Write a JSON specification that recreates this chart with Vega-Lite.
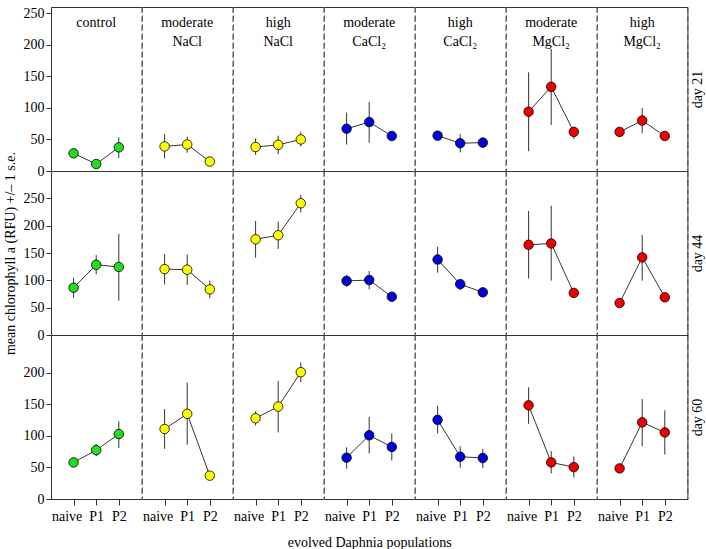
{
  "$schema": "https://vega.github.io/schema/vega-lite/v6.json",
  "background": "white",
  "padding": {"left": 2, "top": 5, "right": 0, "bottom": 5},
  "bounds": "flush",
  "spacing": 0,
  "columns": 7,
  "config": {
    "font": "Liberation Serif",
    "view": {"stroke": "#666", "strokeDash": [6, 3], "strokeWidth": 1},
    "axis": {"labelFont": "Liberation Serif", "titleFont": "Liberation Serif", "labelFontSize": 14, "titleFontSize": 14, "titleFontWeight": "normal", "labelColor": "#000", "titleColor": "#000", "domainColor": "#333", "tickColor": "#333", "grid": false},
    "concat": {"spacing": 0}
  },
  "data": {"values": [
    {"day": 21, "treatment": "control", "pop": "naive", "mean": 28, "lo": 25, "hi": 31},
    {"day": 21, "treatment": "control", "pop": "P1", "mean": 11, "lo": 8, "hi": 14},
    {"day": 21, "treatment": "control", "pop": "P2", "mean": 37.5, "lo": 20.5, "hi": 53.5},
    {"day": 21, "treatment": "moderate NaCl", "pop": "naive", "mean": 39, "lo": 20, "hi": 58.5},
    {"day": 21, "treatment": "moderate NaCl", "pop": "P1", "mean": 42, "lo": 29, "hi": 54.5},
    {"day": 21, "treatment": "moderate NaCl", "pop": "P2", "mean": 15, "lo": 12, "hi": 18},
    {"day": 21, "treatment": "high NaCl", "pop": "naive", "mean": 38, "lo": 25.5, "hi": 51.5},
    {"day": 21, "treatment": "high NaCl", "pop": "P1", "mean": 41.5, "lo": 26.5, "hi": 56},
    {"day": 21, "treatment": "high NaCl", "pop": "P2", "mean": 50, "lo": 39, "hi": 62},
    {"day": 21, "treatment": "moderate CaCl₂", "pop": "naive", "mean": 67, "lo": 42, "hi": 92.5},
    {"day": 21, "treatment": "moderate CaCl₂", "pop": "P1", "mean": 77.5, "lo": 45, "hi": 109.5},
    {"day": 21, "treatment": "moderate CaCl₂", "pop": "P2", "mean": 55.5, "lo": 52, "hi": 59},
    {"day": 21, "treatment": "high CaCl₂", "pop": "naive", "mean": 56, "lo": 53, "hi": 59},
    {"day": 21, "treatment": "high CaCl₂", "pop": "P1", "mean": 44, "lo": 29.5, "hi": 58.5},
    {"day": 21, "treatment": "high CaCl₂", "pop": "P2", "mean": 45, "lo": 36.5, "hi": 53.5},
    {"day": 21, "treatment": "moderate MgCl₂", "pop": "naive", "mean": 94, "lo": 31.5, "hi": 156.5},
    {"day": 21, "treatment": "moderate MgCl₂", "pop": "P1", "mean": 133.5, "lo": 73, "hi": 193.5},
    {"day": 21, "treatment": "moderate MgCl₂", "pop": "P2", "mean": 62, "lo": 51, "hi": 70},
    {"day": 21, "treatment": "high MgCl₂", "pop": "naive", "mean": 62, "lo": 57, "hi": 67},
    {"day": 21, "treatment": "high MgCl₂", "pop": "P1", "mean": 80, "lo": 60, "hi": 99.5},
    {"day": 21, "treatment": "high MgCl₂", "pop": "P2", "mean": 55.5, "lo": 52.5, "hi": 58.5},
    {"day": 44, "treatment": "control", "pop": "naive", "mean": 86.5, "lo": 68, "hi": 105},
    {"day": 44, "treatment": "control", "pop": "P1", "mean": 128.5, "lo": 111, "hi": 146},
    {"day": 44, "treatment": "control", "pop": "P2", "mean": 124.5, "lo": 63, "hi": 185},
    {"day": 44, "treatment": "moderate NaCl", "pop": "naive", "mean": 120.5, "lo": 92.5, "hi": 148},
    {"day": 44, "treatment": "moderate NaCl", "pop": "P1", "mean": 119.5, "lo": 91.5, "hi": 147.5},
    {"day": 44, "treatment": "moderate NaCl", "pop": "P2", "mean": 83.5, "lo": 67, "hi": 99.5},
    {"day": 44, "treatment": "high NaCl", "pop": "naive", "mean": 175, "lo": 141.5, "hi": 208.5},
    {"day": 44, "treatment": "high NaCl", "pop": "P1", "mean": 182.5, "lo": 157.5, "hi": 207.5},
    {"day": 44, "treatment": "high NaCl", "pop": "P2", "mean": 241, "lo": 224, "hi": 256},
    {"day": 44, "treatment": "moderate CaCl₂", "pop": "naive", "mean": 99, "lo": 88, "hi": 110},
    {"day": 44, "treatment": "moderate CaCl₂", "pop": "P1", "mean": 100.5, "lo": 83.5, "hi": 117},
    {"day": 44, "treatment": "moderate CaCl₂", "pop": "P2", "mean": 70, "lo": 66, "hi": 74},
    {"day": 44, "treatment": "high CaCl₂", "pop": "naive", "mean": 138, "lo": 114, "hi": 161.5},
    {"day": 44, "treatment": "high CaCl₂", "pop": "P1", "mean": 93, "lo": 82.5, "hi": 100.5},
    {"day": 44, "treatment": "high CaCl₂", "pop": "P2", "mean": 78, "lo": 75, "hi": 81},
    {"day": 44, "treatment": "moderate MgCl₂", "pop": "naive", "mean": 165, "lo": 103.5, "hi": 227},
    {"day": 44, "treatment": "moderate MgCl₂", "pop": "P1", "mean": 167.5, "lo": 99.5, "hi": 236.5},
    {"day": 44, "treatment": "moderate MgCl₂", "pop": "P2", "mean": 77, "lo": 74, "hi": 80},
    {"day": 44, "treatment": "high MgCl₂", "pop": "naive", "mean": 58.5, "lo": 55.5, "hi": 61.5},
    {"day": 44, "treatment": "high MgCl₂", "pop": "P1", "mean": 142, "lo": 99.5, "hi": 183},
    {"day": 44, "treatment": "high MgCl₂", "pop": "P2", "mean": 69, "lo": 66, "hi": 72},
    {"day": 60, "treatment": "control", "pop": "naive", "mean": 58, "lo": 55, "hi": 61},
    {"day": 60, "treatment": "control", "pop": "P1", "mean": 77.5, "lo": 68, "hi": 87},
    {"day": 60, "treatment": "control", "pop": "P2", "mean": 103, "lo": 81, "hi": 123},
    {"day": 60, "treatment": "moderate NaCl", "pop": "naive", "mean": 111, "lo": 79.5, "hi": 142.5},
    {"day": 60, "treatment": "moderate NaCl", "pop": "P1", "mean": 135, "lo": 86, "hi": 184.5},
    {"day": 60, "treatment": "moderate NaCl", "pop": "P2", "mean": 37, "lo": 34, "hi": 40},
    {"day": 60, "treatment": "high NaCl", "pop": "naive", "mean": 128, "lo": 116.5, "hi": 139},
    {"day": 60, "treatment": "high NaCl", "pop": "P1", "mean": 146.5, "lo": 105.5, "hi": 187},
    {"day": 60, "treatment": "high NaCl", "pop": "P2", "mean": 201, "lo": 185, "hi": 216.5},
    {"day": 60, "treatment": "moderate CaCl₂", "pop": "naive", "mean": 65.5, "lo": 48, "hi": 82},
    {"day": 60, "treatment": "moderate CaCl₂", "pop": "P1", "mean": 101, "lo": 72, "hi": 130},
    {"day": 60, "treatment": "moderate CaCl₂", "pop": "P2", "mean": 82.5, "lo": 61, "hi": 104},
    {"day": 60, "treatment": "high CaCl₂", "pop": "naive", "mean": 125.5, "lo": 104, "hi": 148},
    {"day": 60, "treatment": "high CaCl₂", "pop": "P1", "mean": 67, "lo": 49.5, "hi": 83.5},
    {"day": 60, "treatment": "high CaCl₂", "pop": "P2", "mean": 65, "lo": 49, "hi": 79.5},
    {"day": 60, "treatment": "moderate MgCl₂", "pop": "naive", "mean": 148.5, "lo": 119, "hi": 177},
    {"day": 60, "treatment": "moderate MgCl₂", "pop": "P1", "mean": 58, "lo": 40.5, "hi": 76},
    {"day": 60, "treatment": "moderate MgCl₂", "pop": "P2", "mean": 50.5, "lo": 34, "hi": 67.5},
    {"day": 60, "treatment": "high MgCl₂", "pop": "naive", "mean": 48.5, "lo": 46.5, "hi": 50.5},
    {"day": 60, "treatment": "high MgCl₂", "pop": "P1", "mean": 121.5, "lo": 83.5, "hi": 158.5},
    {"day": 60, "treatment": "high MgCl₂", "pop": "P2", "mean": 105.5, "lo": 70.5, "hi": 140.5}
  ]},
  "concat": [
    {"width": 90.4, "height": 164, "transform": [{"filter": "datum.day == 21 && datum.treatment == 'control'"}], "resolve": {"axis": {"x": "independent", "y": "independent"}},
     "layer": [
      {"mark": {"type": "rule", "color": "#333"}, "encoding": {"x": {"field": "pop", "type": "ordinal", "scale": {"type": "point", "padding": 1, "domain": ["naive", "P1", "P2"]}, "axis": {"orient": "bottom", "labels": false, "ticks": false, "title": null}}, "y": {"field": "lo", "type": "quantitative", "scale": {"domain": [0, 250]}, "axis": null}, "y2": {"field": "hi"}}},
      {"mark": {"type": "line", "color": "#000", "strokeWidth": 0.8}, "encoding": {"x": {"field": "pop", "type": "ordinal", "axis": null}, "y": {"field": "mean", "type": "quantitative", "axis": null}}},
      {"mark": {"type": "point", "filled": true, "stroke": "#000", "strokeWidth": 0.8, "size": 90, "opacity": 1}, "encoding": {"x": {"field": "pop", "type": "ordinal", "axis": {"orient": "top", "labels": false, "ticks": false, "title": null}}, "y": {"field": "mean", "type": "quantitative", "axis": {"orient": "left", "values": [0, 50, 100, 150, 200, 250], "tickSize": 5, "title": null}}, "fill": {"field": "treatment", "type": "nominal", "scale": {"domain": ["control", "moderate NaCl", "high NaCl", "moderate CaCl₂", "high CaCl₂", "moderate MgCl₂", "high MgCl₂"], "range": ["#22dd22", "#ffff00", "#ffff00", "#0000dd", "#0000dd", "#ee0000", "#ee0000"]}, "legend": null}}},
      {"transform": [{"filter": "datum.pop == 'P1'"}], "mark": {"type": "text", "baseline": "top", "dy": 3, "fontSize": 14, "lineBreak": " ", "lineHeight": 19, "color": "#000"}, "encoding": {"x": {"field": "pop", "type": "ordinal", "axis": null}, "y": {"datum": 250, "type": "quantitative", "axis": null}, "text": {"field": "treatment"}}}
     ]},
    {"width": 90.4, "height": 164, "transform": [{"filter": "datum.day == 21 && datum.treatment == 'moderate NaCl'"}], "resolve": {"axis": {"x": "independent", "y": "independent"}},
     "layer": [
      {"mark": {"type": "rule", "color": "#333"}, "encoding": {"x": {"field": "pop", "type": "ordinal", "scale": {"type": "point", "padding": 1, "domain": ["naive", "P1", "P2"]}, "axis": {"orient": "bottom", "labels": false, "ticks": false, "title": null}}, "y": {"field": "lo", "type": "quantitative", "scale": {"domain": [0, 250]}, "axis": null}, "y2": {"field": "hi"}}},
      {"mark": {"type": "line", "color": "#000", "strokeWidth": 0.8}, "encoding": {"x": {"field": "pop", "type": "ordinal", "axis": null}, "y": {"field": "mean", "type": "quantitative", "axis": null}}},
      {"mark": {"type": "point", "filled": true, "stroke": "#000", "strokeWidth": 0.8, "size": 90, "opacity": 1}, "encoding": {"x": {"field": "pop", "type": "ordinal", "axis": {"orient": "top", "labels": false, "ticks": false, "title": null}}, "y": {"field": "mean", "type": "quantitative", "axis": null}, "fill": {"field": "treatment", "type": "nominal", "scale": {"domain": ["control", "moderate NaCl", "high NaCl", "moderate CaCl₂", "high CaCl₂", "moderate MgCl₂", "high MgCl₂"], "range": ["#22dd22", "#ffff00", "#ffff00", "#0000dd", "#0000dd", "#ee0000", "#ee0000"]}, "legend": null}}},
      {"transform": [{"filter": "datum.pop == 'P1'"}], "mark": {"type": "text", "baseline": "top", "dy": 3, "fontSize": 14, "lineBreak": " ", "lineHeight": 19, "color": "#000"}, "encoding": {"x": {"field": "pop", "type": "ordinal", "axis": null}, "y": {"datum": 250, "type": "quantitative", "axis": null}, "text": {"field": "treatment"}}}
     ]},
    {"width": 90.4, "height": 164, "transform": [{"filter": "datum.day == 21 && datum.treatment == 'high NaCl'"}], "resolve": {"axis": {"x": "independent", "y": "independent"}},
     "layer": [
      {"mark": {"type": "rule", "color": "#333"}, "encoding": {"x": {"field": "pop", "type": "ordinal", "scale": {"type": "point", "padding": 1, "domain": ["naive", "P1", "P2"]}, "axis": {"orient": "bottom", "labels": false, "ticks": false, "title": null}}, "y": {"field": "lo", "type": "quantitative", "scale": {"domain": [0, 250]}, "axis": null}, "y2": {"field": "hi"}}},
      {"mark": {"type": "line", "color": "#000", "strokeWidth": 0.8}, "encoding": {"x": {"field": "pop", "type": "ordinal", "axis": null}, "y": {"field": "mean", "type": "quantitative", "axis": null}}},
      {"mark": {"type": "point", "filled": true, "stroke": "#000", "strokeWidth": 0.8, "size": 90, "opacity": 1}, "encoding": {"x": {"field": "pop", "type": "ordinal", "axis": {"orient": "top", "labels": false, "ticks": false, "title": null}}, "y": {"field": "mean", "type": "quantitative", "axis": null}, "fill": {"field": "treatment", "type": "nominal", "scale": {"domain": ["control", "moderate NaCl", "high NaCl", "moderate CaCl₂", "high CaCl₂", "moderate MgCl₂", "high MgCl₂"], "range": ["#22dd22", "#ffff00", "#ffff00", "#0000dd", "#0000dd", "#ee0000", "#ee0000"]}, "legend": null}}},
      {"transform": [{"filter": "datum.pop == 'P1'"}], "mark": {"type": "text", "baseline": "top", "dy": 3, "fontSize": 14, "lineBreak": " ", "lineHeight": 19, "color": "#000"}, "encoding": {"x": {"field": "pop", "type": "ordinal", "axis": null}, "y": {"datum": 250, "type": "quantitative", "axis": null}, "text": {"field": "treatment"}}}
     ]},
    {"width": 90.4, "height": 164, "transform": [{"filter": "datum.day == 21 && datum.treatment == 'moderate CaCl₂'"}], "resolve": {"axis": {"x": "independent", "y": "independent"}},
     "layer": [
      {"mark": {"type": "rule", "color": "#333"}, "encoding": {"x": {"field": "pop", "type": "ordinal", "scale": {"type": "point", "padding": 1, "domain": ["naive", "P1", "P2"]}, "axis": {"orient": "bottom", "labels": false, "ticks": false, "title": null}}, "y": {"field": "lo", "type": "quantitative", "scale": {"domain": [0, 250]}, "axis": null}, "y2": {"field": "hi"}}},
      {"mark": {"type": "line", "color": "#000", "strokeWidth": 0.8}, "encoding": {"x": {"field": "pop", "type": "ordinal", "axis": null}, "y": {"field": "mean", "type": "quantitative", "axis": null}}},
      {"mark": {"type": "point", "filled": true, "stroke": "#000", "strokeWidth": 0.8, "size": 90, "opacity": 1}, "encoding": {"x": {"field": "pop", "type": "ordinal", "axis": {"orient": "top", "labels": false, "ticks": false, "title": null}}, "y": {"field": "mean", "type": "quantitative", "axis": null}, "fill": {"field": "treatment", "type": "nominal", "scale": {"domain": ["control", "moderate NaCl", "high NaCl", "moderate CaCl₂", "high CaCl₂", "moderate MgCl₂", "high MgCl₂"], "range": ["#22dd22", "#ffff00", "#ffff00", "#0000dd", "#0000dd", "#ee0000", "#ee0000"]}, "legend": null}}},
      {"transform": [{"filter": "datum.pop == 'P1'"}], "mark": {"type": "text", "baseline": "top", "dy": 3, "fontSize": 14, "lineBreak": " ", "lineHeight": 19, "color": "#000"}, "encoding": {"x": {"field": "pop", "type": "ordinal", "axis": null}, "y": {"datum": 250, "type": "quantitative", "axis": null}, "text": {"field": "treatment"}}}
     ]},
    {"width": 90.4, "height": 164, "transform": [{"filter": "datum.day == 21 && datum.treatment == 'high CaCl₂'"}], "resolve": {"axis": {"x": "independent", "y": "independent"}},
     "layer": [
      {"mark": {"type": "rule", "color": "#333"}, "encoding": {"x": {"field": "pop", "type": "ordinal", "scale": {"type": "point", "padding": 1, "domain": ["naive", "P1", "P2"]}, "axis": {"orient": "bottom", "labels": false, "ticks": false, "title": null}}, "y": {"field": "lo", "type": "quantitative", "scale": {"domain": [0, 250]}, "axis": null}, "y2": {"field": "hi"}}},
      {"mark": {"type": "line", "color": "#000", "strokeWidth": 0.8}, "encoding": {"x": {"field": "pop", "type": "ordinal", "axis": null}, "y": {"field": "mean", "type": "quantitative", "axis": null}}},
      {"mark": {"type": "point", "filled": true, "stroke": "#000", "strokeWidth": 0.8, "size": 90, "opacity": 1}, "encoding": {"x": {"field": "pop", "type": "ordinal", "axis": {"orient": "top", "labels": false, "ticks": false, "title": null}}, "y": {"field": "mean", "type": "quantitative", "axis": null}, "fill": {"field": "treatment", "type": "nominal", "scale": {"domain": ["control", "moderate NaCl", "high NaCl", "moderate CaCl₂", "high CaCl₂", "moderate MgCl₂", "high MgCl₂"], "range": ["#22dd22", "#ffff00", "#ffff00", "#0000dd", "#0000dd", "#ee0000", "#ee0000"]}, "legend": null}}},
      {"transform": [{"filter": "datum.pop == 'P1'"}], "mark": {"type": "text", "baseline": "top", "dy": 3, "fontSize": 14, "lineBreak": " ", "lineHeight": 19, "color": "#000"}, "encoding": {"x": {"field": "pop", "type": "ordinal", "axis": null}, "y": {"datum": 250, "type": "quantitative", "axis": null}, "text": {"field": "treatment"}}}
     ]},
    {"width": 90.4, "height": 164, "transform": [{"filter": "datum.day == 21 && datum.treatment == 'moderate MgCl₂'"}], "resolve": {"axis": {"x": "independent", "y": "independent"}},
     "layer": [
      {"mark": {"type": "rule", "color": "#333"}, "encoding": {"x": {"field": "pop", "type": "ordinal", "scale": {"type": "point", "padding": 1, "domain": ["naive", "P1", "P2"]}, "axis": {"orient": "bottom", "labels": false, "ticks": false, "title": null}}, "y": {"field": "lo", "type": "quantitative", "scale": {"domain": [0, 250]}, "axis": null}, "y2": {"field": "hi"}}},
      {"mark": {"type": "line", "color": "#000", "strokeWidth": 0.8}, "encoding": {"x": {"field": "pop", "type": "ordinal", "axis": null}, "y": {"field": "mean", "type": "quantitative", "axis": null}}},
      {"mark": {"type": "point", "filled": true, "stroke": "#000", "strokeWidth": 0.8, "size": 90, "opacity": 1}, "encoding": {"x": {"field": "pop", "type": "ordinal", "axis": {"orient": "top", "labels": false, "ticks": false, "title": null}}, "y": {"field": "mean", "type": "quantitative", "axis": null}, "fill": {"field": "treatment", "type": "nominal", "scale": {"domain": ["control", "moderate NaCl", "high NaCl", "moderate CaCl₂", "high CaCl₂", "moderate MgCl₂", "high MgCl₂"], "range": ["#22dd22", "#ffff00", "#ffff00", "#0000dd", "#0000dd", "#ee0000", "#ee0000"]}, "legend": null}}},
      {"transform": [{"filter": "datum.pop == 'P1'"}], "mark": {"type": "text", "baseline": "top", "dy": 3, "fontSize": 14, "lineBreak": " ", "lineHeight": 19, "color": "#000"}, "encoding": {"x": {"field": "pop", "type": "ordinal", "axis": null}, "y": {"datum": 250, "type": "quantitative", "axis": null}, "text": {"field": "treatment"}}}
     ]},
    {"width": 90.4, "height": 164, "transform": [{"filter": "datum.day == 21 && datum.treatment == 'high MgCl₂'"}], "resolve": {"axis": {"x": "independent", "y": "independent"}},
     "layer": [
      {"mark": {"type": "rule", "color": "#333"}, "encoding": {"x": {"field": "pop", "type": "ordinal", "scale": {"type": "point", "padding": 1, "domain": ["naive", "P1", "P2"]}, "axis": {"orient": "bottom", "labels": false, "ticks": false, "title": null}}, "y": {"field": "lo", "type": "quantitative", "scale": {"domain": [0, 250]}, "axis": null}, "y2": {"field": "hi"}}},
      {"mark": {"type": "line", "color": "#000", "strokeWidth": 0.8}, "encoding": {"x": {"field": "pop", "type": "ordinal", "axis": null}, "y": {"field": "mean", "type": "quantitative", "axis": null}}},
      {"mark": {"type": "point", "filled": true, "stroke": "#000", "strokeWidth": 0.8, "size": 90, "opacity": 1}, "encoding": {"x": {"field": "pop", "type": "ordinal", "axis": {"orient": "top", "labels": false, "ticks": false, "title": null}}, "y": {"field": "mean", "type": "quantitative", "axis": {"orient": "right", "labels": false, "ticks": false, "title": "day 21", "titleAngle": 270, "titleBaseline": "top", "titleFontSize": 14, "titlePadding": 3}}, "fill": {"field": "treatment", "type": "nominal", "scale": {"domain": ["control", "moderate NaCl", "high NaCl", "moderate CaCl₂", "high CaCl₂", "moderate MgCl₂", "high MgCl₂"], "range": ["#22dd22", "#ffff00", "#ffff00", "#0000dd", "#0000dd", "#ee0000", "#ee0000"]}, "legend": null}}},
      {"transform": [{"filter": "datum.pop == 'P1'"}], "mark": {"type": "text", "baseline": "top", "dy": 3, "fontSize": 14, "lineBreak": " ", "lineHeight": 19, "color": "#000"}, "encoding": {"x": {"field": "pop", "type": "ordinal", "axis": null}, "y": {"datum": 250, "type": "quantitative", "axis": null}, "text": {"field": "treatment"}}}
     ]},

    {"width": 90.4, "height": 164, "transform": [{"filter": "datum.day == 44 && datum.treatment == 'control'"}], "resolve": {"axis": {"x": "independent", "y": "independent"}},
     "layer": [
      {"mark": {"type": "rule", "color": "#333"}, "encoding": {"x": {"field": "pop", "type": "ordinal", "scale": {"type": "point", "padding": 1, "domain": ["naive", "P1", "P2"]}, "axis": {"orient": "bottom", "labels": false, "ticks": false, "title": null}}, "y": {"field": "lo", "type": "quantitative", "scale": {"domain": [0, 300]}, "axis": null}, "y2": {"field": "hi"}}},
      {"mark": {"type": "line", "color": "#000", "strokeWidth": 0.8}, "encoding": {"x": {"field": "pop", "type": "ordinal", "axis": null}, "y": {"field": "mean", "type": "quantitative", "axis": null}}},
      {"mark": {"type": "point", "filled": true, "stroke": "#000", "strokeWidth": 0.8, "size": 90, "opacity": 1}, "encoding": {"x": {"field": "pop", "type": "ordinal", "axis": {"orient": "top", "labels": false, "ticks": false, "title": null}}, "y": {"field": "mean", "type": "quantitative", "axis": {"orient": "left", "values": [0, 50, 100, 150, 200, 250], "tickSize": 5, "title": "mean chlorophyll a (RFU) +/– 1 s.e.", "titlePadding": 6}}, "fill": {"field": "treatment", "type": "nominal", "scale": {"domain": ["control", "moderate NaCl", "high NaCl", "moderate CaCl₂", "high CaCl₂", "moderate MgCl₂", "high MgCl₂"], "range": ["#22dd22", "#ffff00", "#ffff00", "#0000dd", "#0000dd", "#ee0000", "#ee0000"]}, "legend": null}}}
     ]},
    {"width": 90.4, "height": 164, "transform": [{"filter": "datum.day == 44 && datum.treatment == 'moderate NaCl'"}], "resolve": {"axis": {"x": "independent", "y": "independent"}},
     "layer": [
      {"mark": {"type": "rule", "color": "#333"}, "encoding": {"x": {"field": "pop", "type": "ordinal", "scale": {"type": "point", "padding": 1, "domain": ["naive", "P1", "P2"]}, "axis": {"orient": "bottom", "labels": false, "ticks": false, "title": null}}, "y": {"field": "lo", "type": "quantitative", "scale": {"domain": [0, 300]}, "axis": null}, "y2": {"field": "hi"}}},
      {"mark": {"type": "line", "color": "#000", "strokeWidth": 0.8}, "encoding": {"x": {"field": "pop", "type": "ordinal", "axis": null}, "y": {"field": "mean", "type": "quantitative", "axis": null}}},
      {"mark": {"type": "point", "filled": true, "stroke": "#000", "strokeWidth": 0.8, "size": 90, "opacity": 1}, "encoding": {"x": {"field": "pop", "type": "ordinal", "axis": {"orient": "top", "labels": false, "ticks": false, "title": null}}, "y": {"field": "mean", "type": "quantitative", "axis": null}, "fill": {"field": "treatment", "type": "nominal", "scale": {"domain": ["control", "moderate NaCl", "high NaCl", "moderate CaCl₂", "high CaCl₂", "moderate MgCl₂", "high MgCl₂"], "range": ["#22dd22", "#ffff00", "#ffff00", "#0000dd", "#0000dd", "#ee0000", "#ee0000"]}, "legend": null}}}
     ]},
    {"width": 90.4, "height": 164, "transform": [{"filter": "datum.day == 44 && datum.treatment == 'high NaCl'"}], "resolve": {"axis": {"x": "independent", "y": "independent"}},
     "layer": [
      {"mark": {"type": "rule", "color": "#333"}, "encoding": {"x": {"field": "pop", "type": "ordinal", "scale": {"type": "point", "padding": 1, "domain": ["naive", "P1", "P2"]}, "axis": {"orient": "bottom", "labels": false, "ticks": false, "title": null}}, "y": {"field": "lo", "type": "quantitative", "scale": {"domain": [0, 300]}, "axis": null}, "y2": {"field": "hi"}}},
      {"mark": {"type": "line", "color": "#000", "strokeWidth": 0.8}, "encoding": {"x": {"field": "pop", "type": "ordinal", "axis": null}, "y": {"field": "mean", "type": "quantitative", "axis": null}}},
      {"mark": {"type": "point", "filled": true, "stroke": "#000", "strokeWidth": 0.8, "size": 90, "opacity": 1}, "encoding": {"x": {"field": "pop", "type": "ordinal", "axis": {"orient": "top", "labels": false, "ticks": false, "title": null}}, "y": {"field": "mean", "type": "quantitative", "axis": null}, "fill": {"field": "treatment", "type": "nominal", "scale": {"domain": ["control", "moderate NaCl", "high NaCl", "moderate CaCl₂", "high CaCl₂", "moderate MgCl₂", "high MgCl₂"], "range": ["#22dd22", "#ffff00", "#ffff00", "#0000dd", "#0000dd", "#ee0000", "#ee0000"]}, "legend": null}}}
     ]},
    {"width": 90.4, "height": 164, "transform": [{"filter": "datum.day == 44 && datum.treatment == 'moderate CaCl₂'"}], "resolve": {"axis": {"x": "independent", "y": "independent"}},
     "layer": [
      {"mark": {"type": "rule", "color": "#333"}, "encoding": {"x": {"field": "pop", "type": "ordinal", "scale": {"type": "point", "padding": 1, "domain": ["naive", "P1", "P2"]}, "axis": {"orient": "bottom", "labels": false, "ticks": false, "title": null}}, "y": {"field": "lo", "type": "quantitative", "scale": {"domain": [0, 300]}, "axis": null}, "y2": {"field": "hi"}}},
      {"mark": {"type": "line", "color": "#000", "strokeWidth": 0.8}, "encoding": {"x": {"field": "pop", "type": "ordinal", "axis": null}, "y": {"field": "mean", "type": "quantitative", "axis": null}}},
      {"mark": {"type": "point", "filled": true, "stroke": "#000", "strokeWidth": 0.8, "size": 90, "opacity": 1}, "encoding": {"x": {"field": "pop", "type": "ordinal", "axis": {"orient": "top", "labels": false, "ticks": false, "title": null}}, "y": {"field": "mean", "type": "quantitative", "axis": null}, "fill": {"field": "treatment", "type": "nominal", "scale": {"domain": ["control", "moderate NaCl", "high NaCl", "moderate CaCl₂", "high CaCl₂", "moderate MgCl₂", "high MgCl₂"], "range": ["#22dd22", "#ffff00", "#ffff00", "#0000dd", "#0000dd", "#ee0000", "#ee0000"]}, "legend": null}}}
     ]},
    {"width": 90.4, "height": 164, "transform": [{"filter": "datum.day == 44 && datum.treatment == 'high CaCl₂'"}], "resolve": {"axis": {"x": "independent", "y": "independent"}},
     "layer": [
      {"mark": {"type": "rule", "color": "#333"}, "encoding": {"x": {"field": "pop", "type": "ordinal", "scale": {"type": "point", "padding": 1, "domain": ["naive", "P1", "P2"]}, "axis": {"orient": "bottom", "labels": false, "ticks": false, "title": null}}, "y": {"field": "lo", "type": "quantitative", "scale": {"domain": [0, 300]}, "axis": null}, "y2": {"field": "hi"}}},
      {"mark": {"type": "line", "color": "#000", "strokeWidth": 0.8}, "encoding": {"x": {"field": "pop", "type": "ordinal", "axis": null}, "y": {"field": "mean", "type": "quantitative", "axis": null}}},
      {"mark": {"type": "point", "filled": true, "stroke": "#000", "strokeWidth": 0.8, "size": 90, "opacity": 1}, "encoding": {"x": {"field": "pop", "type": "ordinal", "axis": {"orient": "top", "labels": false, "ticks": false, "title": null}}, "y": {"field": "mean", "type": "quantitative", "axis": null}, "fill": {"field": "treatment", "type": "nominal", "scale": {"domain": ["control", "moderate NaCl", "high NaCl", "moderate CaCl₂", "high CaCl₂", "moderate MgCl₂", "high MgCl₂"], "range": ["#22dd22", "#ffff00", "#ffff00", "#0000dd", "#0000dd", "#ee0000", "#ee0000"]}, "legend": null}}}
     ]},
    {"width": 90.4, "height": 164, "transform": [{"filter": "datum.day == 44 && datum.treatment == 'moderate MgCl₂'"}], "resolve": {"axis": {"x": "independent", "y": "independent"}},
     "layer": [
      {"mark": {"type": "rule", "color": "#333"}, "encoding": {"x": {"field": "pop", "type": "ordinal", "scale": {"type": "point", "padding": 1, "domain": ["naive", "P1", "P2"]}, "axis": {"orient": "bottom", "labels": false, "ticks": false, "title": null}}, "y": {"field": "lo", "type": "quantitative", "scale": {"domain": [0, 300]}, "axis": null}, "y2": {"field": "hi"}}},
      {"mark": {"type": "line", "color": "#000", "strokeWidth": 0.8}, "encoding": {"x": {"field": "pop", "type": "ordinal", "axis": null}, "y": {"field": "mean", "type": "quantitative", "axis": null}}},
      {"mark": {"type": "point", "filled": true, "stroke": "#000", "strokeWidth": 0.8, "size": 90, "opacity": 1}, "encoding": {"x": {"field": "pop", "type": "ordinal", "axis": {"orient": "top", "labels": false, "ticks": false, "title": null}}, "y": {"field": "mean", "type": "quantitative", "axis": null}, "fill": {"field": "treatment", "type": "nominal", "scale": {"domain": ["control", "moderate NaCl", "high NaCl", "moderate CaCl₂", "high CaCl₂", "moderate MgCl₂", "high MgCl₂"], "range": ["#22dd22", "#ffff00", "#ffff00", "#0000dd", "#0000dd", "#ee0000", "#ee0000"]}, "legend": null}}}
     ]},
    {"width": 90.4, "height": 164, "transform": [{"filter": "datum.day == 44 && datum.treatment == 'high MgCl₂'"}], "resolve": {"axis": {"x": "independent", "y": "independent"}},
     "layer": [
      {"mark": {"type": "rule", "color": "#333"}, "encoding": {"x": {"field": "pop", "type": "ordinal", "scale": {"type": "point", "padding": 1, "domain": ["naive", "P1", "P2"]}, "axis": {"orient": "bottom", "labels": false, "ticks": false, "title": null}}, "y": {"field": "lo", "type": "quantitative", "scale": {"domain": [0, 300]}, "axis": null}, "y2": {"field": "hi"}}},
      {"mark": {"type": "line", "color": "#000", "strokeWidth": 0.8}, "encoding": {"x": {"field": "pop", "type": "ordinal", "axis": null}, "y": {"field": "mean", "type": "quantitative", "axis": null}}},
      {"mark": {"type": "point", "filled": true, "stroke": "#000", "strokeWidth": 0.8, "size": 90, "opacity": 1}, "encoding": {"x": {"field": "pop", "type": "ordinal", "axis": {"orient": "top", "labels": false, "ticks": false, "title": null}}, "y": {"field": "mean", "type": "quantitative", "axis": {"orient": "right", "labels": false, "ticks": false, "title": "day 44", "titleAngle": 270, "titleBaseline": "top", "titleFontSize": 14, "titlePadding": 3}}, "fill": {"field": "treatment", "type": "nominal", "scale": {"domain": ["control", "moderate NaCl", "high NaCl", "moderate CaCl₂", "high CaCl₂", "moderate MgCl₂", "high MgCl₂"], "range": ["#22dd22", "#ffff00", "#ffff00", "#0000dd", "#0000dd", "#ee0000", "#ee0000"]}, "legend": null}}}
     ]},

    {"width": 90.4, "height": 164, "transform": [{"filter": "datum.day == 60 && datum.treatment == 'control'"}], "resolve": {"axis": {"x": "independent", "y": "independent"}},
     "layer": [
      {"mark": {"type": "rule", "color": "#333"}, "encoding": {"x": {"field": "pop", "type": "ordinal", "scale": {"type": "point", "padding": 1, "domain": ["naive", "P1", "P2"]}, "axis": {"orient": "bottom", "labelAngle": 0, "tickSize": 6, "labelPadding": 4, "labelOffset": {"condition": {"test": "datum.value == 'naive'", "value": -7}, "value": 0}, "title": null}}, "y": {"field": "lo", "type": "quantitative", "scale": {"domain": [0, 250]}, "axis": null}, "y2": {"field": "hi"}}},
      {"mark": {"type": "line", "color": "#000", "strokeWidth": 0.8}, "encoding": {"x": {"field": "pop", "type": "ordinal", "axis": null}, "y": {"field": "mean", "type": "quantitative", "axis": null}}},
      {"mark": {"type": "point", "filled": true, "stroke": "#000", "strokeWidth": 0.8, "size": 90, "opacity": 1}, "encoding": {"x": {"field": "pop", "type": "ordinal", "axis": {"orient": "top", "labels": false, "ticks": false, "title": null}}, "y": {"field": "mean", "type": "quantitative", "axis": {"orient": "left", "values": [0, 50, 100, 150, 200], "tickSize": 5, "title": null}}, "fill": {"field": "treatment", "type": "nominal", "scale": {"domain": ["control", "moderate NaCl", "high NaCl", "moderate CaCl₂", "high CaCl₂", "moderate MgCl₂", "high MgCl₂"], "range": ["#22dd22", "#ffff00", "#ffff00", "#0000dd", "#0000dd", "#ee0000", "#ee0000"]}, "legend": null}}}
     ]},
    {"width": 90.4, "height": 164, "transform": [{"filter": "datum.day == 60 && datum.treatment == 'moderate NaCl'"}], "resolve": {"axis": {"x": "independent", "y": "independent"}},
     "layer": [
      {"mark": {"type": "rule", "color": "#333"}, "encoding": {"x": {"field": "pop", "type": "ordinal", "scale": {"type": "point", "padding": 1, "domain": ["naive", "P1", "P2"]}, "axis": {"orient": "bottom", "labelAngle": 0, "tickSize": 6, "labelPadding": 4, "labelOffset": {"condition": {"test": "datum.value == 'naive'", "value": -7}, "value": 0}, "title": null}}, "y": {"field": "lo", "type": "quantitative", "scale": {"domain": [0, 250]}, "axis": null}, "y2": {"field": "hi"}}},
      {"mark": {"type": "line", "color": "#000", "strokeWidth": 0.8}, "encoding": {"x": {"field": "pop", "type": "ordinal", "axis": null}, "y": {"field": "mean", "type": "quantitative", "axis": null}}},
      {"mark": {"type": "point", "filled": true, "stroke": "#000", "strokeWidth": 0.8, "size": 90, "opacity": 1}, "encoding": {"x": {"field": "pop", "type": "ordinal", "axis": {"orient": "top", "labels": false, "ticks": false, "title": null}}, "y": {"field": "mean", "type": "quantitative", "axis": null}, "fill": {"field": "treatment", "type": "nominal", "scale": {"domain": ["control", "moderate NaCl", "high NaCl", "moderate CaCl₂", "high CaCl₂", "moderate MgCl₂", "high MgCl₂"], "range": ["#22dd22", "#ffff00", "#ffff00", "#0000dd", "#0000dd", "#ee0000", "#ee0000"]}, "legend": null}}}
     ]},
    {"width": 90.4, "height": 164, "transform": [{"filter": "datum.day == 60 && datum.treatment == 'high NaCl'"}], "resolve": {"axis": {"x": "independent", "y": "independent"}},
     "layer": [
      {"mark": {"type": "rule", "color": "#333"}, "encoding": {"x": {"field": "pop", "type": "ordinal", "scale": {"type": "point", "padding": 1, "domain": ["naive", "P1", "P2"]}, "axis": {"orient": "bottom", "labelAngle": 0, "tickSize": 6, "labelPadding": 4, "labelOffset": {"condition": {"test": "datum.value == 'naive'", "value": -7}, "value": 0}, "title": null}}, "y": {"field": "lo", "type": "quantitative", "scale": {"domain": [0, 250]}, "axis": null}, "y2": {"field": "hi"}}},
      {"mark": {"type": "line", "color": "#000", "strokeWidth": 0.8}, "encoding": {"x": {"field": "pop", "type": "ordinal", "axis": null}, "y": {"field": "mean", "type": "quantitative", "axis": null}}},
      {"mark": {"type": "point", "filled": true, "stroke": "#000", "strokeWidth": 0.8, "size": 90, "opacity": 1}, "encoding": {"x": {"field": "pop", "type": "ordinal", "axis": {"orient": "top", "labels": false, "ticks": false, "title": null}}, "y": {"field": "mean", "type": "quantitative", "axis": null}, "fill": {"field": "treatment", "type": "nominal", "scale": {"domain": ["control", "moderate NaCl", "high NaCl", "moderate CaCl₂", "high CaCl₂", "moderate MgCl₂", "high MgCl₂"], "range": ["#22dd22", "#ffff00", "#ffff00", "#0000dd", "#0000dd", "#ee0000", "#ee0000"]}, "legend": null}}}
     ]},
    {"width": 90.4, "height": 164, "transform": [{"filter": "datum.day == 60 && datum.treatment == 'moderate CaCl₂'"}], "resolve": {"axis": {"x": "independent", "y": "independent"}},
     "layer": [
      {"mark": {"type": "rule", "color": "#333"}, "encoding": {"x": {"field": "pop", "type": "ordinal", "scale": {"type": "point", "padding": 1, "domain": ["naive", "P1", "P2"]}, "axis": {"orient": "bottom", "labelAngle": 0, "tickSize": 6, "labelPadding": 4, "labelOffset": {"condition": {"test": "datum.value == 'naive'", "value": -7}, "value": 0}, "title": "evolved Daphnia populations", "titlePadding": 12}}, "y": {"field": "lo", "type": "quantitative", "scale": {"domain": [0, 250]}, "axis": null}, "y2": {"field": "hi"}}},
      {"mark": {"type": "line", "color": "#000", "strokeWidth": 0.8}, "encoding": {"x": {"field": "pop", "type": "ordinal", "axis": null}, "y": {"field": "mean", "type": "quantitative", "axis": null}}},
      {"mark": {"type": "point", "filled": true, "stroke": "#000", "strokeWidth": 0.8, "size": 90, "opacity": 1}, "encoding": {"x": {"field": "pop", "type": "ordinal", "axis": {"orient": "top", "labels": false, "ticks": false, "title": null}}, "y": {"field": "mean", "type": "quantitative", "axis": null}, "fill": {"field": "treatment", "type": "nominal", "scale": {"domain": ["control", "moderate NaCl", "high NaCl", "moderate CaCl₂", "high CaCl₂", "moderate MgCl₂", "high MgCl₂"], "range": ["#22dd22", "#ffff00", "#ffff00", "#0000dd", "#0000dd", "#ee0000", "#ee0000"]}, "legend": null}}}
     ]},
    {"width": 90.4, "height": 164, "transform": [{"filter": "datum.day == 60 && datum.treatment == 'high CaCl₂'"}], "resolve": {"axis": {"x": "independent", "y": "independent"}},
     "layer": [
      {"mark": {"type": "rule", "color": "#333"}, "encoding": {"x": {"field": "pop", "type": "ordinal", "scale": {"type": "point", "padding": 1, "domain": ["naive", "P1", "P2"]}, "axis": {"orient": "bottom", "labelAngle": 0, "tickSize": 6, "labelPadding": 4, "labelOffset": {"condition": {"test": "datum.value == 'naive'", "value": -7}, "value": 0}, "title": null}}, "y": {"field": "lo", "type": "quantitative", "scale": {"domain": [0, 250]}, "axis": null}, "y2": {"field": "hi"}}},
      {"mark": {"type": "line", "color": "#000", "strokeWidth": 0.8}, "encoding": {"x": {"field": "pop", "type": "ordinal", "axis": null}, "y": {"field": "mean", "type": "quantitative", "axis": null}}},
      {"mark": {"type": "point", "filled": true, "stroke": "#000", "strokeWidth": 0.8, "size": 90, "opacity": 1}, "encoding": {"x": {"field": "pop", "type": "ordinal", "axis": {"orient": "top", "labels": false, "ticks": false, "title": null}}, "y": {"field": "mean", "type": "quantitative", "axis": null}, "fill": {"field": "treatment", "type": "nominal", "scale": {"domain": ["control", "moderate NaCl", "high NaCl", "moderate CaCl₂", "high CaCl₂", "moderate MgCl₂", "high MgCl₂"], "range": ["#22dd22", "#ffff00", "#ffff00", "#0000dd", "#0000dd", "#ee0000", "#ee0000"]}, "legend": null}}}
     ]},
    {"width": 90.4, "height": 164, "transform": [{"filter": "datum.day == 60 && datum.treatment == 'moderate MgCl₂'"}], "resolve": {"axis": {"x": "independent", "y": "independent"}},
     "layer": [
      {"mark": {"type": "rule", "color": "#333"}, "encoding": {"x": {"field": "pop", "type": "ordinal", "scale": {"type": "point", "padding": 1, "domain": ["naive", "P1", "P2"]}, "axis": {"orient": "bottom", "labelAngle": 0, "tickSize": 6, "labelPadding": 4, "labelOffset": {"condition": {"test": "datum.value == 'naive'", "value": -7}, "value": 0}, "title": null}}, "y": {"field": "lo", "type": "quantitative", "scale": {"domain": [0, 250]}, "axis": null}, "y2": {"field": "hi"}}},
      {"mark": {"type": "line", "color": "#000", "strokeWidth": 0.8}, "encoding": {"x": {"field": "pop", "type": "ordinal", "axis": null}, "y": {"field": "mean", "type": "quantitative", "axis": null}}},
      {"mark": {"type": "point", "filled": true, "stroke": "#000", "strokeWidth": 0.8, "size": 90, "opacity": 1}, "encoding": {"x": {"field": "pop", "type": "ordinal", "axis": {"orient": "top", "labels": false, "ticks": false, "title": null}}, "y": {"field": "mean", "type": "quantitative", "axis": null}, "fill": {"field": "treatment", "type": "nominal", "scale": {"domain": ["control", "moderate NaCl", "high NaCl", "moderate CaCl₂", "high CaCl₂", "moderate MgCl₂", "high MgCl₂"], "range": ["#22dd22", "#ffff00", "#ffff00", "#0000dd", "#0000dd", "#ee0000", "#ee0000"]}, "legend": null}}}
     ]},
    {"width": 90.4, "height": 164, "transform": [{"filter": "datum.day == 60 && datum.treatment == 'high MgCl₂'"}], "resolve": {"axis": {"x": "independent", "y": "independent"}},
     "layer": [
      {"mark": {"type": "rule", "color": "#333"}, "encoding": {"x": {"field": "pop", "type": "ordinal", "scale": {"type": "point", "padding": 1, "domain": ["naive", "P1", "P2"]}, "axis": {"orient": "bottom", "labelAngle": 0, "tickSize": 6, "labelPadding": 4, "labelOffset": {"condition": {"test": "datum.value == 'naive'", "value": -7}, "value": 0}, "title": null}}, "y": {"field": "lo", "type": "quantitative", "scale": {"domain": [0, 250]}, "axis": null}, "y2": {"field": "hi"}}},
      {"mark": {"type": "line", "color": "#000", "strokeWidth": 0.8}, "encoding": {"x": {"field": "pop", "type": "ordinal", "axis": null}, "y": {"field": "mean", "type": "quantitative", "axis": null}}},
      {"mark": {"type": "point", "filled": true, "stroke": "#000", "strokeWidth": 0.8, "size": 90, "opacity": 1}, "encoding": {"x": {"field": "pop", "type": "ordinal", "axis": {"orient": "top", "labels": false, "ticks": false, "title": null}}, "y": {"field": "mean", "type": "quantitative", "axis": {"orient": "right", "labels": false, "ticks": false, "title": "day 60", "titleAngle": 270, "titleBaseline": "top", "titleFontSize": 14, "titlePadding": 3}}, "fill": {"field": "treatment", "type": "nominal", "scale": {"domain": ["control", "moderate NaCl", "high NaCl", "moderate CaCl₂", "high CaCl₂", "moderate MgCl₂", "high MgCl₂"], "range": ["#22dd22", "#ffff00", "#ffff00", "#0000dd", "#0000dd", "#ee0000", "#ee0000"]}, "legend": null}}}
     ]}
  ]
}
